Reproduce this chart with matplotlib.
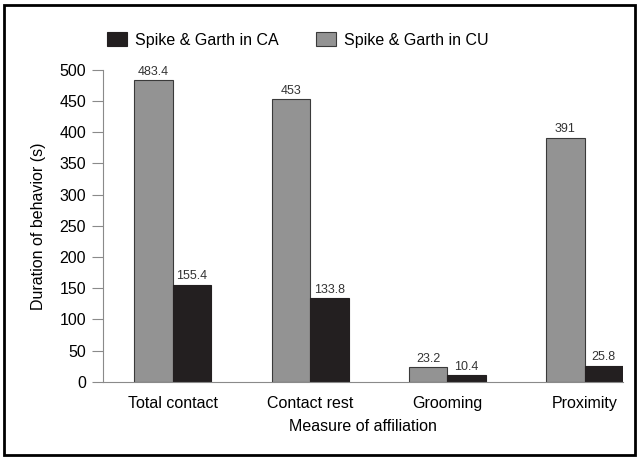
import matplotlib.pyplot as plt
from matplotlib.patches import Rectangle
import numpy as np

plt.rcParams['font.family'] = ['Liberation Sans Narrow', 'Liberation Sans', 'DejaVu Sans']

categories = ['Total contact', 'Contact rest', 'Grooming', 'Proximity']
cu_values = [483.4, 453, 23.2, 391]
ca_values = [155.4, 133.8, 10.4, 25.8]
cu_labels = ['483.4', '453', '23.2', '391']
ca_labels = ['155.4', '133.8', '10.4', '25.8']
yticks = [0, 50, 100, 150, 200, 250, 300, 350, 400, 450, 500]

gray = '#939393'
black = '#231f20'
axis_gray = '#8a8a8a'

fig = plt.figure(figsize=(6.39, 4.59), dpi=100)
ax = fig.add_axes([0.161, 0.168, 0.814, 0.68])

x = np.arange(len(categories))
w = 0.28
b1 = ax.bar(x - w/2, cu_values, w, color=gray, edgecolor='#3a3a3a', linewidth=0.8,
            label='Spike & Garth in CU')
b2 = ax.bar(x + w/2, ca_values, w, color=black, edgecolor=black, linewidth=0.8,
            label='Spike & Garth in CA')

for bars, labs in [(b1, cu_labels), (b2, ca_labels)]:
    for bar, lab in zip(bars, labs):
        ax.text(bar.get_x() + bar.get_width()/2, bar.get_height() + 4, lab,
                ha='center', va='bottom', fontsize=9, color='#333333')

ax.set_xlim(-0.51, 3.28)
ax.set_ylim(0, 500)
ax.set_yticks(yticks)
ax.set_xticks(x)
ax.set_xticklabels(categories, fontsize=11.5)
ax.tick_params(axis='y', labelsize=11.5, length=8, color=axis_gray, width=0.8, pad=4)
ax.tick_params(axis='x', length=0, pad=10)
for s in ['top', 'right']:
    ax.spines[s].set_visible(False)
for s in ['left', 'bottom']:
    ax.spines[s].set_color(axis_gray)
    ax.spines[s].set_linewidth(0.8)

ax.set_ylabel('Duration of behavior (s)', fontsize=11.5, labelpad=10)
ax.set_xlabel('Measure of affiliation', fontsize=11.5, labelpad=6)

handles = [b2, b1]
fig.legend(handles, [h.get_label() for h in handles], loc='center',
           bbox_to_anchor=(0.466, 0.913), ncol=2, frameon=False, fontsize=11.5,
           handlelength=1.3, handleheight=1.0, columnspacing=2.3, handletextpad=0.5)

fig.patches.append(Rectangle((0.007, 0.009), 0.986, 0.981, transform=fig.transFigure,
                             fill=False, edgecolor='black', linewidth=2))

fig.savefig('out.png', dpi=100)
